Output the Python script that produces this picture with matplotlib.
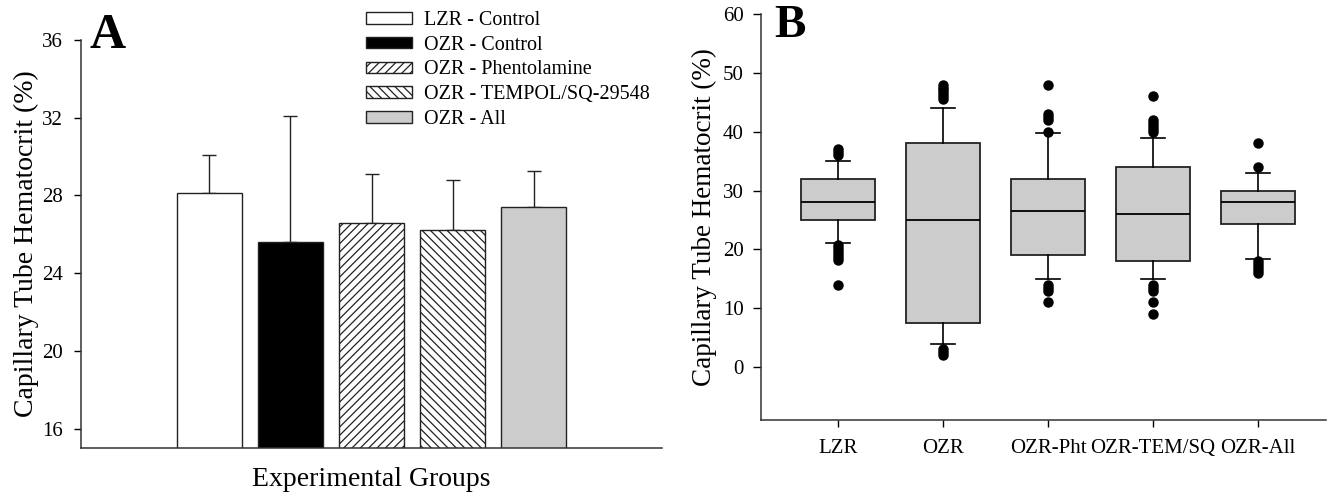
import matplotlib
matplotlib.use("Agg")
import matplotlib.pyplot as plt

plt.rcParams["font.family"] = ["Liberation Serif", "DejaVu Serif"]
plt.rcParams["hatch.linewidth"] = 0.9

# panel A: mean and upper SD
groups_a = ["LZR - Control", "OZR - Control", "OZR - Phentolamine",
            "OZR - TEMPOL/SQ-29548", "OZR - All"]
means_a = [28.1, 25.6, 26.6, 26.2, 27.4]
sd_a = [2.0, 6.5, 2.5, 2.6, 1.85]
colors_a = ["white", "black", "white", "white", "#cccccc"]
hatches_a = ["", "", "////", "\\\\\\\\", ""]

# panel B: box plot summaries
labels_b = ["LZR", "OZR", "OZR-Pht", "OZR-TEM/SQ", "OZR-All"]
med_b = [28, 25, 26.5, 26, 28]
q1_b = [25, 7.5, 19, 18, 24.3]
q3_b = [32, 38, 32, 34, 30]
whislo_b = [21, 4, 15, 15, 18.4]
whishi_b = [35, 44, 39.8, 39, 33]
fliers_b = [
    [36, 36.5, 37, 20.7, 20.2, 19.7, 19.2, 18.7, 18.2, 14],
    [45.5, 46, 46.5, 47, 47.5, 48, 3, 2.5, 2],
    [40, 42, 42.5, 43, 48, 14, 13.5, 13, 11],
    [40, 40.5, 41, 41.5, 42, 46, 14, 13.5, 13, 11, 9],
    [38, 34, 18, 17.5, 17, 16.5, 16],
]

W, H = 1344, 497
fig = plt.figure(figsize=(W / 100, H / 100), dpi=100)

# ---- panel A ----
axA = fig.add_axes([81 / W, 1 - 448 / H, 581 / W, 408 / H])
x = list(range(len(means_a)))
bars = axA.bar(x, means_a, width=0.8, color=colors_a, edgecolor="#222222",
               linewidth=1.0, zorder=2)
for b, h in zip(bars, hatches_a):
    b.set_hatch(h)
axA.errorbar(x, means_a, yerr=[[0] * len(sd_a), sd_a], fmt="none",
             ecolor="#222222", elinewidth=1.0, capsize=5, capthick=1.0, zorder=1)
axA.set_xlim(-1.58, 5.58)
axA.set_ylim(15, 36)
axA.set_yticks([16, 20, 24, 28, 32, 36])
axA.set_xticks([])
axA.set_ylabel("Capillary Tube Hematocrit (%)", fontsize=20, labelpad=2)
axA.set_xlabel("Experimental Groups", fontsize=20, labelpad=14)
axA.tick_params(axis="y", direction="out", length=5, width=1, pad=8, labelsize=15)
for s in ["top", "right"]:
    axA.spines[s].set_visible(False)
for s in ["left", "bottom"]:
    axA.spines[s].set_color("#333333")
    axA.spines[s].set_linewidth(1.1)
axA.legend(bars, groups_a, loc="upper left", frameon=False, fontsize=14.5,
           bbox_to_anchor=(366 / W, 1 - 11 / H), bbox_transform=fig.transFigure,
           borderaxespad=0, borderpad=0, handlelength=2.3, handleheight=0.5,
           handletextpad=0.6, labelspacing=0.285)
fig.text(90 / W, 1 - 48 / H, "A", fontsize=36, fontweight="bold")

# ---- panel B ----
axB = fig.add_axes([760.5 / W, 1 - 420 / H, 565.5 / W, 406 / H])
stats = []
for i in range(len(labels_b)):
    stats.append(dict(label=labels_b[i], med=med_b[i], q1=q1_b[i], q3=q3_b[i],
                      whislo=whislo_b[i], whishi=whishi_b[i], fliers=fliers_b[i]))
axB.bxp(stats, positions=[1, 2, 3, 4, 5], widths=0.7, capwidths=0.22,
        patch_artist=True,
        boxprops=dict(facecolor="#cccccc", edgecolor="#222222", linewidth=1.3),
        medianprops=dict(color="black", linewidth=1.3),
        whiskerprops=dict(color="black", linewidth=1.2),
        capprops=dict(color="black", linewidth=1.2),
        flierprops=dict(marker="o", markerfacecolor="black",
                        markeredgecolor="black", markersize=6.5))
axB.set_xlim(0.262, 5.648)
axB.set_ylim(-9, 60)
axB.set_yticks([0, 10, 20, 30, 40, 50, 60])
axB.set_ylabel("Capillary Tube Hematocrit (%)", fontsize=19.5)
axB.tick_params(axis="y", direction="out", length=6, width=1, pad=6, labelsize=15)
axB.tick_params(axis="x", direction="out", length=5, width=1, pad=9, labelsize=15)
for s in ["top", "right"]:
    axB.spines[s].set_visible(False)
for s in ["left", "bottom"]:
    axB.spines[s].set_color("#333333")
    axB.spines[s].set_linewidth(1.1)
fig.text(774 / W, 1 - 37 / H, "B", fontsize=34, fontweight="bold")

fig.savefig("out.png", dpi=100)
